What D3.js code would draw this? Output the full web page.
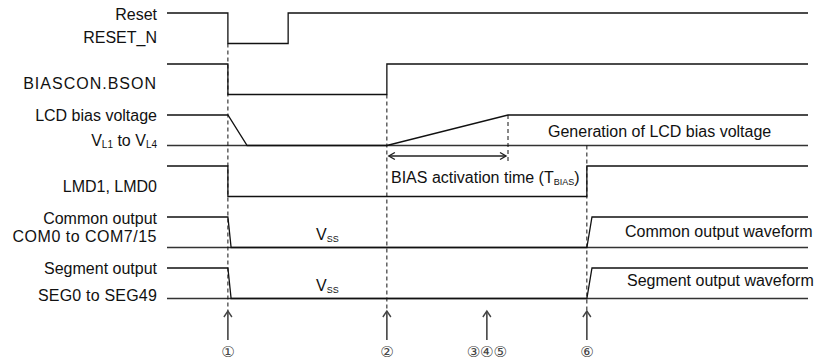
<!DOCTYPE html>
<html><head><meta charset="utf-8">
<script src="https://cdn.jsdelivr.net/npm/d3@7"></script>
<style>
html,body{margin:0;padding:0;background:#fff;}
text{font-family:"Liberation Sans",Arial,sans-serif;fill:#111;}
</style></head>
<body><svg id="c" width="815" height="362"></svg>
<script>
// ---- data ----
const rowNames = ["reset","bson","bias","lmd","com","seg"];
// waveforms: [time, level]
const resetWave = [[0,1],[9.5,1],[9.5,0],[18.9,0],[18.9,1],[100,1]];
const bsonWave  = [[0,1],[9.5,1],[9.5,0],[34.3,0],[34.3,1],[100,1]];
const biasWave  = [[0,1],[9.5,1],[12.5,0],[34.3,0],[53.2,1],[100,1]];
const lmdWave   = [[0,1],[9.5,1],[9.5,0],[65.5,0],[65.5,1],[100,1]];
const comWave   = [[0,1],[9.5,1],[10.0,0],[65.5,0],[66.3,1],[100,1]];
const segWave   = [[0,1],[9.5,1],[10.0,0],[65.5,0],[66.3,1],[100,1]];
const waves = [resetWave,bsonWave,biasWave,lmdWave,comWave,segWave];
const baselineRows = ["bias","com","seg"]; // rows with a full-width low line
// guide events
const eventTimes  = [9.5, 34.3, 49.9, 65.5];
const eventLabels = ["①","②","③④⑤","⑥"];
const eventDashed = [true, true, false, true];
const eventDashFromRow = ["reset","bson","","bias"];
const biasDoneTime = 53.2;

// ---- scales ----
const svg = d3.select("#c");
const x = d3.scaleLinear().domain([0,100]).range([167,808]);
const row = d3.scalePoint().domain(rowNames).range([13,268]);
const lvl = d3.scaleLinear().domain([1,0]).range([0,30.5]);
const yOf = (r,l)=>row(r)+lvl(l);
const lineGen = r => d3.line().x(d=>x(d[0])).y(d=>yOf(r,d[1]));

const g = svg.append("g");

baselineRows.forEach(r=>{
  g.append("path").attr("d",lineGen(r)([[0,0],[100,0]]))
   .attr("fill","none").attr("stroke","#333").attr("stroke-width",1.3);
});
waves.forEach((w,i)=>{
  g.append("path").attr("d",lineGen(rowNames[i])(w))
   .attr("fill","none").attr("stroke","#111").attr("stroke-width",1.3);
});

const arrowTop = 311, arrowBot = 340;
eventTimes.forEach((t,i)=>{
  if(eventDashed[i]){
    g.append("line").attr("x1",x(t)).attr("x2",x(t))
     .attr("y1",yOf(eventDashFromRow[i],0)).attr("y2",arrowTop)
     .attr("stroke","#111").attr("stroke-width",1).attr("stroke-dasharray","4,3");
  }
  g.append("line").attr("x1",x(t)).attr("x2",x(t)).attr("y1",arrowTop).attr("y2",arrowBot)
   .attr("stroke","#444").attr("stroke-width",1.6);
  g.append("path").attr("d",`M${x(t)-4},${arrowTop+6}L${x(t)},${arrowTop}L${x(t)+4},${arrowTop+6}`)
   .attr("fill","none").attr("stroke","#444").attr("stroke-width",1.4);
  g.append("text").attr("x",x(t)).attr("y",357).attr("text-anchor","middle")
   .style("font-family","'DejaVu Sans',sans-serif").style("font-size","15px").style("fill","#444")
   .text(eventLabels[i]);
});
g.append("line").attr("x1",x(biasDoneTime)).attr("x2",x(biasDoneTime))
 .attr("y1",yOf("bias",1)).attr("y2",163)
 .attr("stroke","#111").attr("stroke-width",1).attr("stroke-dasharray","4,3");

const ya = 156, xa1 = x(34.3)+2, xa2 = x(biasDoneTime)-2;
g.append("line").attr("x1",xa1).attr("x2",xa2).attr("y1",ya).attr("y2",ya).attr("stroke","#222").attr("stroke-width",1.4);
g.append("path").attr("d",`M${xa1+6},${ya-3.5}L${xa1},${ya}L${xa1+6},${ya+3.5}`).attr("fill","none").attr("stroke","#222").attr("stroke-width",1.4);
g.append("path").attr("d",`M${xa2-6},${ya-3.5}L${xa2},${ya}L${xa2-6},${ya+3.5}`).attr("fill","none").attr("stroke","#222").attr("stroke-width",1.4);

// ---- labels ----
const fs = 16;
const lx = 157;
function label(xx,yy,anchor,parts,ls){
  const t = g.append("text").attr("x",xx).attr("y",yy).attr("text-anchor",anchor).style("font-size",fs+"px");
  if(ls) t.style("letter-spacing",ls+"px");
  parts.forEach(p=>{
    if(typeof p==="string") t.append("tspan").text(p);
    else t.append("tspan").style("font-size",p.size+"px").attr("dy",p.dy).text(p.t);
  });
  return t;
}
label(lx,20,"end",["Reset"]);
label(lx,43,"end",["RESET_N"]);
label(lx,89,"end",["BIASCON.BSON"],1);
label(lx,121,"end",["LCD bias voltage"]);
label(lx,146,"end",["V",{t:"L1",size:10,dy:2}," ",{t:"to V",size:16,dy:-2},{t:"L4",size:10,dy:2}]);
label(lx,192,"end",["LMD1, LMD0"]);
label(lx,224,"end",["Common output"]);
label(lx,242,"end",["COM0 to COM7/15"],0.5);
label(lx,274,"end",["Segment output"]);
label(lx,301,"end",["SEG0 to SEG49"],0.2);

label(316,240,"start",["V",{t:"SS",size:9,dy:2}]);
label(316,291,"start",["V",{t:"SS",size:9,dy:2}]);
label(548,137,"start",["Generation of LCD bias voltage"]);
label(391,183,"start",["BIAS activation time (T",{t:"BIAS",size:9,dy:2},{t:")",size:16,dy:-2}]);
label(625,237,"start",["Common output waveform"]);
label(627,286,"start",["Segment output waveform"]);
</script></body></html>
